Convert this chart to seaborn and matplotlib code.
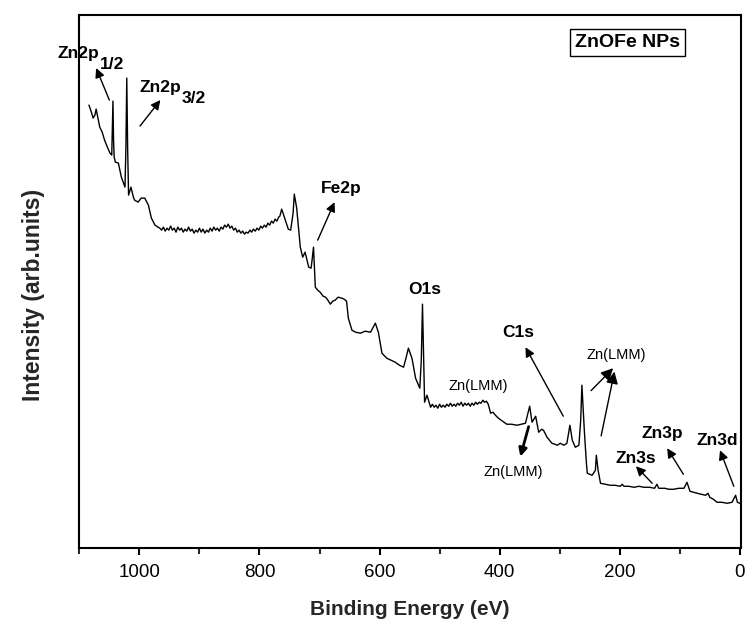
import matplotlib
matplotlib.use("Agg")
import matplotlib.pyplot as plt
import seaborn as sns
import pandas as pd

# ---- data ----
energy = [1084, 1080, 1077, 1074, 1072, 1070, 1066, 1062, 1058, 1054, 1049, 1046, 1044, 1043, 1042,
          1040, 1035, 1030, 1024, 1022.5, 1021, 1019.5, 1018, 1014, 1010, 1008, 1002, 997, 991, 985,
          980, 974, 969, 966, 963, 960, 957, 954, 951, 948, 945, 942, 939, 936, 933,
          930, 927, 924, 921, 918, 915, 912, 909, 906, 903, 900, 897, 894, 891, 888,
          885, 882, 879, 876, 873, 870, 867, 864, 861, 858, 855, 852, 849, 846, 843,
          840, 837, 834, 831, 828, 825, 822, 819, 816, 813, 810, 807, 804, 801, 798,
          795, 792, 789, 786, 783, 780, 777, 774, 771, 768, 766, 763, 757, 752, 748,
          744, 742, 738, 732, 728, 724, 718, 714, 712, 710, 707, 703, 699, 694, 690,
          686, 682, 678, 674, 669, 663, 659, 655, 652, 646, 640, 632, 624, 615, 607,
          602, 596, 588, 581, 574, 567, 560, 556, 552, 546, 540, 533, 530.5, 528.5, 526.5,
          525, 521, 515, 512, 509, 506, 503, 500, 497, 494, 491, 488, 485, 482, 479,
          476, 473, 470, 467, 464, 461, 458, 455, 452, 449, 446, 443, 440, 437, 434,
          431, 428, 425, 422, 419, 415, 411, 407, 402, 395, 388, 380, 371, 364, 357,
          350, 346, 340, 335, 330, 327, 321, 317, 313, 308, 304, 299, 293, 288, 283,
          279, 274, 268, 265, 263, 259, 255.5, 254, 250, 246, 240.5, 239, 236, 232, 224,
          216, 208, 199, 196, 193, 185, 176, 168, 160, 150, 142, 138, 135, 125, 118,
          110, 102, 93, 88, 83, 77, 71, 64, 57, 53, 50, 44, 38, 30, 21,
          13, 7, 4, 0]
intensity = [443, 436, 430, 433, 439, 433, 421, 416, 408, 402, 395, 393, 447, 408, 391,
             386, 385, 371, 361, 398, 470, 398, 353, 361, 351, 348, 346, 350, 350, 343,
             330, 323, 321, 320, 318, 321, 317, 320, 318, 322, 318, 320, 316, 321, 318,
             320, 316, 319, 317, 321, 317, 319, 315, 318, 316, 320, 316, 319, 315, 318,
             316, 320, 317, 321, 318, 320, 317, 321, 319, 323, 321, 324, 320, 322, 318,
             320, 316, 318, 315, 317, 314, 316, 315, 318, 316, 319, 317, 320, 318, 322,
             320, 323, 321, 325, 323, 327, 325, 329, 327, 331, 332, 339, 328, 319, 318,
             335, 354, 340, 301, 291, 296, 281, 280, 290, 301, 261, 258, 256, 252, 251,
             248, 244, 247, 248, 251, 250, 249, 247, 230, 218, 216, 215, 217, 216, 225,
             216, 195, 190, 188, 186, 183, 181, 190, 200, 190, 170, 160, 188, 244, 188,
             146, 153, 141, 144, 141, 143, 140, 144, 141, 143, 141, 144, 142, 145, 142,
             144, 142, 145, 143, 146, 142, 145, 143, 145, 142, 145, 143, 146, 144, 146,
             145, 148, 146, 147, 144, 135, 136, 133, 130, 127, 124, 124, 123, 124, 125,
             142, 126, 132, 116, 119, 118, 111, 108, 105, 104, 103, 105, 103, 105, 123,
             108, 101, 103, 128, 163, 118, 85, 75, 74, 73, 78, 93, 78, 65, 64,
             63, 63, 62, 64, 62, 62, 61, 62, 61, 61, 60, 64, 60, 60, 59,
             59, 60, 60, 66, 57, 56, 55, 54, 53, 55, 51, 49, 46, 46, 45,
             46, 53, 46, 45]

x_ticks = [1000, 800, 600, 400, 200, 0]
x_label = "Binding Energy (eV)"
y_label = "Intensity (arb.units)"
sample_label = "ZnOFe NPs"

df = pd.DataFrame({"energy": energy, "intensity": intensity})

sns.set_style("ticks")
plt.rcParams["font.family"] = ["Liberation Sans", "DejaVu Sans"]

fig = plt.figure(figsize=(7.47, 6.28), dpi=100)
ax = fig.add_axes([0.1062, 0.1269, 0.8858, 0.8492])

sns.lineplot(data=df, x="energy", y="intensity", ax=ax, color="black",
             linewidth=1.0, sort=False, estimator=None)

ax.set_xlim(1100, -2)
ax.set_ylim(0, 533)
ax.set_xticks(x_ticks)
ax.set_xticks(range(1100, -1, -100), minor=True)
ax.set_yticks([])
ax.tick_params(axis="x", which="major", direction="out", length=5, width=1.5,
               labelsize=13.5, pad=6, colors="black")
ax.tick_params(axis="x", which="minor", direction="out", length=4, width=1.5)
for s in ax.spines.values():
    s.set_visible(True)
    s.set_linewidth(1.5)
    s.set_color("black")

ax.set_xlabel(x_label, fontsize=15, fontweight="bold", labelpad=14)
ax.set_ylabel(y_label, fontsize=16.5, fontweight="bold")
ax.yaxis.set_label_coords(-0.052, 0.475)

# ---- annotations ----
bold = dict(fontsize=12.5, fontweight="bold", color="black")
norm = dict(fontsize=10.5, color="black")
ap = dict(arrowstyle="-|>", color="black", lw=1.0, mutation_scale=14, shrinkA=0, shrinkB=0)

def arrow(head, tail, **kw):
    props = dict(ap)
    props.update(kw)
    ax.annotate("", xy=head, xytext=tail, xycoords="data", textcoords="data",
                arrowprops=props, annotation_clip=False)

# Zn2p 1/2
ax.text(1137, 495, "Zn2p", ha="left", va="center", clip_on=False, **bold)
ax.text(1066, 484, "1/2", ha="left", va="center", clip_on=False, **bold)
arrow((1072, 480), (1050, 448))
# Zn2p 3/2
ax.text(999, 461, "Zn2p", ha="left", va="center", **bold)
ax.text(929, 450, "3/2", ha="left", va="center", **bold)
arrow((965, 448), (999, 422))
# Fe2p
ax.text(663, 360, "Fe2p", ha="center", va="center", **bold)
arrow((675, 346), (703, 308))
# O1s
ax.text(524, 259, "O1s", ha="center", va="center", **bold)
# C1s
ax.text(369, 216, "C1s", ha="center", va="center", **bold)
arrow((357, 201), (294, 132))
# Zn(LMM) middle
ax.text(436, 162, "Zn(LMM)", ha="center", va="center", **norm)
# Zn(LMM) lower
ax.text(378, 76, "Zn(LMM)", ha="center", va="center", **norm)
arrow((365.5, 91.6), (351.7, 121.6), lw=2.0, mutation_scale=12)
# Zn(LMM) right
ax.text(206, 193, "Zn(LMM)", ha="center", va="center", **norm)
arrow((211, 180), (247.7, 157.6), mutation_scale=18)
arrow((208.8, 176.6), (231, 112.3), mutation_scale=18)
# Zn3s
ax.text(174, 90, "Zn3s", ha="center", va="center", **bold)
arrow((173, 82), (146, 65))
# Zn3p
ax.text(129, 115, "Zn3p", ha="center", va="center", **bold)
arrow((121, 100), (94, 74))
# Zn3d
ax.text(37.7, 108, "Zn3d", ha="center", va="center", **bold)
arrow((33, 98), (10, 62))

# sample label box
ax.text(0.828, 0.949, sample_label, transform=ax.transAxes, ha="center", va="center",
        fontsize=14, fontweight="bold", color="black",
        bbox=dict(boxstyle="square,pad=0.25", facecolor="white", edgecolor="black", linewidth=1.0))

fig.savefig("out.png", dpi=100)
